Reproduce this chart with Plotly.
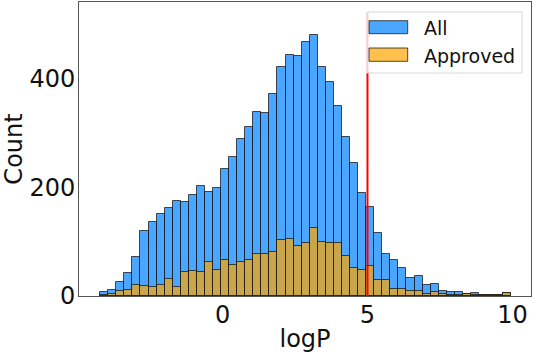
import numpy as np
import plotly.graph_objects as go

# Histogram data (counts per bin)
bin_start = -4.22
bin_width = 0.278
all_counts = [7, 11, 25, 42, 72, 120, 137, 151, 163, 175,
              173, 187, 203, 191, 200, 235, 256, 289, 311, 339,
              337, 372, 423, 445, 443, 468, 482, 423, 394, 351,
              294, 245, 189, 164, 116, 77, 66, 51, 34, 36,
              20, 22, 9, 7, 7, 4, 6, 2, 2, 2, 5]
approved_counts = [1, 3, 10, 11, 21, 19, 17, 20, 31, 17,
                   44, 47, 45, 62, 48, 66, 57, 63, 66, 77,
                   78, 82, 103, 105, 92, 98, 125, 100, 98, 97,
                   74, 52, 48, 55, 29, 29, 12, 12, 9, 10,
                   4, 8, 3, 2, 1, 3, 1, 1, 1, 1, 5]
series_names = ["All", "Approved"]
threshold = 5
threshold_line_top = 522
x_ticks = [0, 5, 10]
y_ticks = [0, 200, 400]

n_bins = len(all_counts)
centers = bin_start + bin_width * (np.arange(n_bins) + 0.5)

blue = "rgba(30,144,255,0.8)"
orange = "rgba(255,165,0,0.7)"
edge = "rgba(20,20,20,0.75)"
font = "DejaVu Sans"

XR = [-4.95, 10.64]
YR = [0, 542]

# plot area in pixels: x 79..531, y 2..296 -> convert pixel positions to axis units
def dx(x):
    return XR[0] + (x - 79) / 452.0 * (XR[1] - XR[0])

def dy(y):
    return YR[0] + (296 - y) / 294.0 * (YR[1] - YR[0])

legend_bottom = dy(73)

fig = go.Figure()
fig.add_trace(go.Bar(x=centers, y=all_counts, width=bin_width, name=series_names[0],
                     hoverinfo="skip",
                     marker=dict(color=blue, line=dict(color=edge, width=1))))
fig.add_trace(go.Bar(x=centers, y=approved_counts, width=bin_width, name=series_names[1],
                     hoverinfo="skip",
                     marker=dict(color=orange, line=dict(color=edge, width=1))))
fig.add_trace(go.Scatter(x=[threshold, threshold], y=[0, legend_bottom], mode="lines",
                         hoverinfo="skip", line=dict(color="red", width=2), name="threshold"))

shapes = [
    dict(type="rect", xref="x", yref="y", x0=dx(367), x1=dx(522), y0=legend_bottom, y1=dy(12),
         line=dict(color="#d8d8d8", width=1), fillcolor="white", layer="above"),
    # threshold line seen through the semi-transparent legend frame
    dict(type="line", xref="x", yref="y", x0=threshold, x1=threshold,
         y0=legend_bottom, y1=threshold_line_top,
         line=dict(color="rgb(255,204,204)", width=2), layer="above"),
    dict(type="rect", xref="x", yref="y", x0=dx(369), x1=dx(407.7), y0=dy(33.7), y1=dy(20.7),
         line=dict(color=edge, width=1), fillcolor=blue, layer="above"),
    dict(type="rect", xref="x", yref="y", x0=dx(369), x1=dx(407.7), y0=dy(61.3), y1=dy(48),
         line=dict(color=edge, width=1), fillcolor=orange, layer="above"),
]
annotations = [
    dict(text=series_names[0], xref="x", yref="y", x=dx(422), y=dy(27.5),
         xanchor="left", yanchor="middle", showarrow=False, font=dict(family=font, size=19, color="#111")),
    dict(text=series_names[1], xref="x", yref="y", x=dx(422), y=dy(55.5),
         xanchor="left", yanchor="middle", showarrow=False, font=dict(family=font, size=19, color="#111")),
]

fig.update_layout(
    width=533, height=353,
    margin=dict(l=79, r=2, t=2, b=57, autoexpand=False),
    barmode="overlay", bargap=0,
    showlegend=False,
    hovermode=False,
    plot_bgcolor="white", paper_bgcolor="white",
    font=dict(family=font, size=24, color="#111"),
    shapes=shapes, annotations=annotations,
    xaxis=dict(range=XR, tickvals=x_ticks, showgrid=False, zeroline=False,
               showline=True, mirror=True, linecolor="#555", linewidth=1, ticks="",
               ticklabelstandoff=-3, automargin=False,
               title=dict(text="logP", standoff=4, font=dict(size=24))),
    yaxis=dict(range=YR, tickvals=y_ticks, showgrid=False, zeroline=False,
               showline=True, mirror=True, linecolor="#555", linewidth=1, ticks="",
               ticklabelstandoff=-2, automargin=False,
               title=dict(text="Count", standoff=6, font=dict(size=24))),
)

fig.write_html("out.html", config={"displayModeBar": False},
               post_script="document.body.style.margin='0';")
